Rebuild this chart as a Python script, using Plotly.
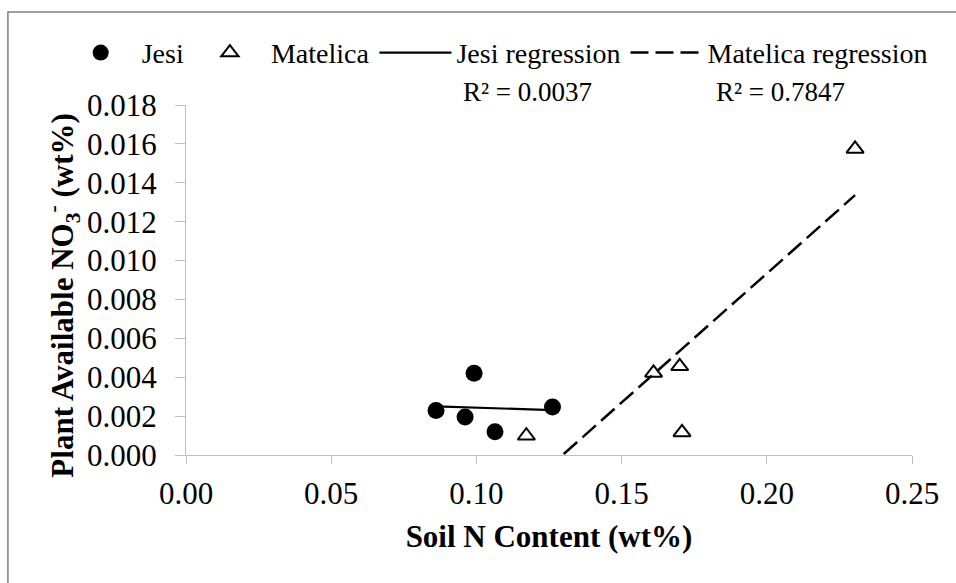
import numpy as np
import plotly.graph_objects as go

# Soil N content (wt%) and plant-available nitrate (wt%) for each site
jesi_n = [0.0861, 0.0961, 0.0992, 0.1064, 0.1262]
jesi_no3 = [0.00229, 0.00195, 0.00420, 0.00120, 0.00247]
matelica_n = [0.1172, 0.1610, 0.1700, 0.1708, 0.2304]
matelica_no3 = [0.00099, 0.00422, 0.00456, 0.00116, 0.01574]

# Coefficient of determination reported for each trendline
r2_labels = ["R² = 0.0037", "R² = 0.7847"]

x_ticks = [0.00, 0.05, 0.10, 0.15, 0.20, 0.25]
y_ticks = [0.000, 0.002, 0.004, 0.006, 0.008, 0.010, 0.012, 0.014, 0.016, 0.018]

FONT = "Liberation Serif"
AXIS_GREY = "#bfbfbf"


def linear_trend(x, y):
    """Least-squares line evaluated at the ends of the x range."""
    slope, intercept = np.polyfit(x, y, 1)
    xs = np.array([min(x), max(x)])
    return xs, slope * xs + intercept


jesi_fit_x, jesi_fit_y = linear_trend(jesi_n, jesi_no3)
mat_fit_x, mat_fit_y = linear_trend(matelica_n, matelica_no3)

fig = go.Figure()

fig.add_trace(go.Scatter(
    x=jesi_n, y=jesi_no3, mode="markers", name="Jesi",
    marker=dict(symbol="circle", size=17, color="black"),
))
fig.add_trace(go.Scatter(
    x=matelica_n, y=matelica_no3, mode="markers", name="Matelica",
    marker=dict(symbol="triangle-up", size=15, color="white",
                line=dict(color="black", width=2)),
))
fig.add_trace(go.Scatter(
    x=jesi_fit_x, y=jesi_fit_y, mode="lines", name="Jesi regression",
    line=dict(color="black", width=2.2),
))
fig.add_trace(go.Scatter(
    x=mat_fit_x, y=mat_fit_y, mode="lines", name="Matelica regression",
    line=dict(color="black", width=2.5, dash="18px,7px"),
))

# R² labels placed above the plot area, near each trendline
for label, xpos in zip(r2_labels, [0.471, 0.819]):
    fig.add_annotation(
        text=label, xref="paper", yref="paper", x=xpos, y=1.038,
        showarrow=False, font=dict(family=FONT, size=27, color="black"),
        xanchor="center", yanchor="middle",
    )

# Vertical axis title (with NO3- subscript/superscript)
fig.add_annotation(
    text="<b>Plant Available NO<sub>3</sub><sup>-</sup> (wt%)</b>",
    xref="paper", yref="paper", x=-0.1695, y=0.458,
    textangle=-90, showarrow=False,
    font=dict(family=FONT, size=31, color="black"),
    xanchor="center", yanchor="middle",
)

# Chart frame
fig.add_shape(
    type="rect", xref="paper", yref="paper",
    x0=-0.2453, x1=1.5, y0=-1.0, y1=1.266,
    line=dict(color="#7f7f7f", width=1.5), fillcolor="rgba(0,0,0,0)",
    layer="below",
)

fig.update_xaxes(
    range=[0, 0.25], tickvals=x_ticks, tickformat=".2f",
    showline=True, linecolor=AXIS_GREY, linewidth=1.2,
    ticks="outside", ticklen=8, tickcolor=AXIS_GREY, tickwidth=1.2,
    ticklabelstandoff=3,
    showgrid=False, zeroline=False,
    tickfont=dict(family=FONT, size=31, color="black"),
    title=dict(text="<b>Soil N Content (wt%)</b>",
               font=dict(family=FONT, size=31, color="black"), standoff=15),
)
fig.update_yaxes(
    range=[0, 0.018], tickvals=y_ticks, tickformat=".3f",
    showline=True, linecolor=AXIS_GREY, linewidth=1.2,
    ticks="outside", ticklen=10, tickcolor=AXIS_GREY, tickwidth=1.2,
    ticklabelstandoff=12,
    showgrid=False, zeroline=False,
    tickfont=dict(family=FONT, size=31, color="black"),
)

fig.update_layout(
    width=956, height=583,
    margin=dict(l=186, r=44, t=105, b=128),
    paper_bgcolor="white", plot_bgcolor="white",
    font=dict(family=FONT, color="black"),
    showlegend=True,
    legend=dict(
        orientation="h", x=-0.174, xanchor="left", y=1.149, yanchor="middle",
        font=dict(family=FONT, size=28, color="black"),
        itemwidth=72, bgcolor="rgba(0,0,0,0)",
    ),
)

fig.write_html("out.html")
